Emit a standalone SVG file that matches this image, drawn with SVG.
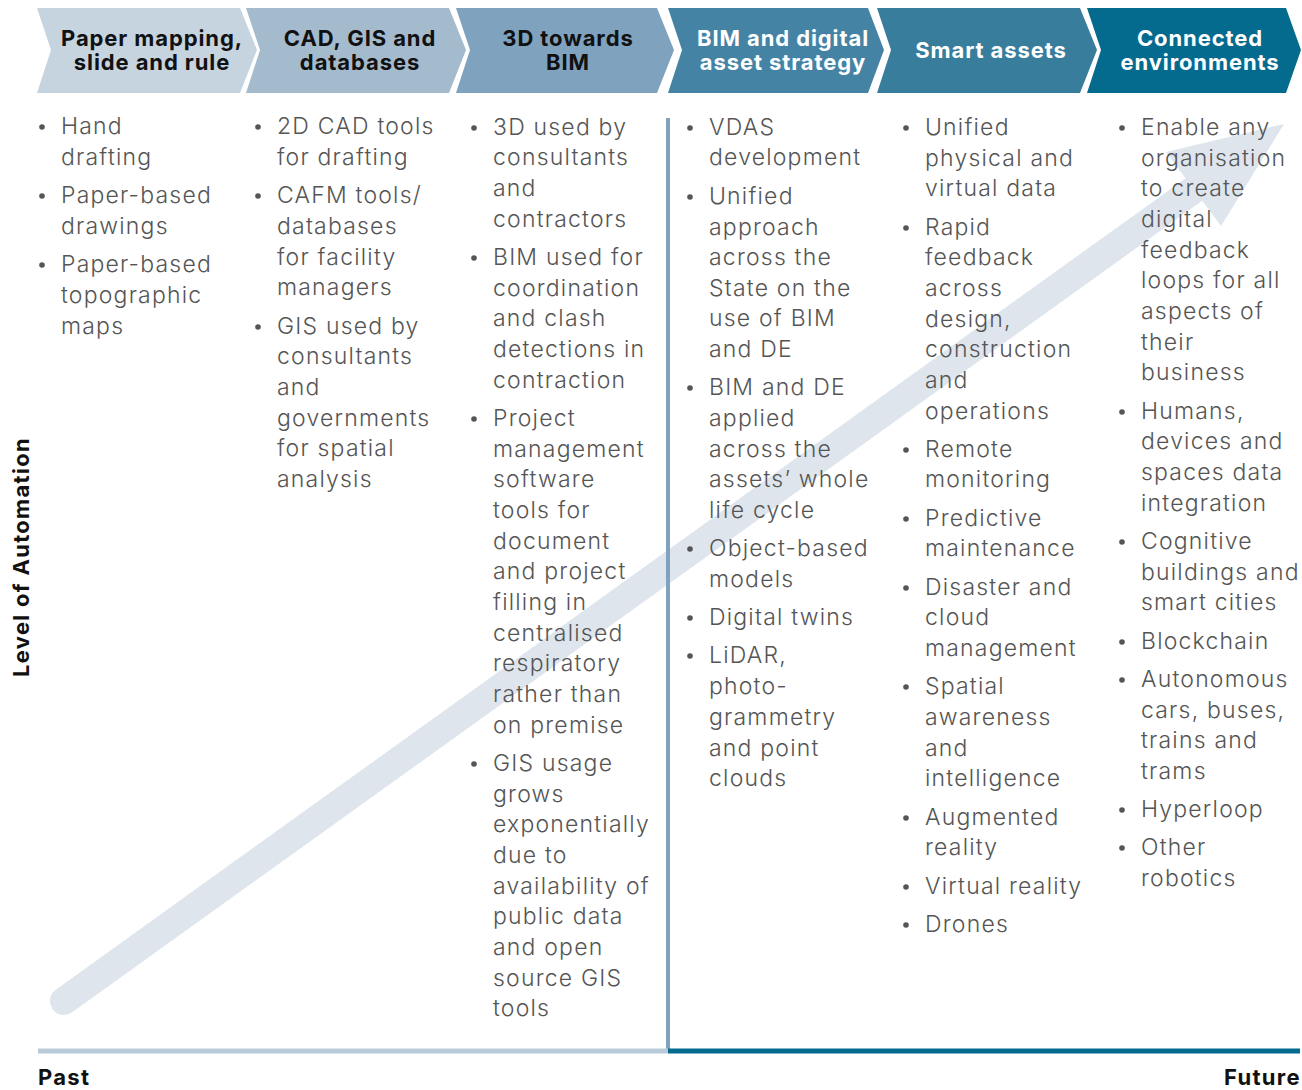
<svg xmlns="http://www.w3.org/2000/svg" width="1302" height="1090" viewBox="0 0 1302 1090">
<defs>
<style>
.hd{font-family:Inter,"Noto Sans","Liberation Sans",sans-serif;font-weight:700;font-size:22px;letter-spacing:0.9px;text-anchor:middle}
.dk{fill:#111}
.lt{fill:#fff}
.bd{font-family:Inter,"Noto Sans","Liberation Sans",sans-serif;font-weight:300;font-size:23px;fill:#555;letter-spacing:1.2px}
.bl{fill:#555}
.ax{font-family:Inter,"Noto Sans","Liberation Sans",sans-serif;font-weight:700;font-size:22px;fill:#111;letter-spacing:1.3px}
</style>
</defs>
<rect width="1302" height="1090" fill="#fff"/>
<!-- header chevrons -->
<g id="stage1"><polygon points="37,8 240,8 257,50 240,93 37,93 51,50" fill="#c6d4e0"/>
<text class="hd dk" x="152" y="46">Paper mapping,</text><text class="hd dk" x="152" y="70">slide and rule</text></g>
<g id="stage2"><polygon points="246,8 449,8 466,50 449,93 246,93 260,50" fill="#a4bacd"/>
<text class="hd dk" x="360" y="46">CAD, GIS and</text><text class="hd dk" x="360" y="70">databases</text></g>
<g id="stage3"><polygon points="456,8 657,8 674,50 657,93 456,93 470,50" fill="#7fa2bf"/>
<text class="hd dk" x="568" y="46">3D towards</text><text class="hd dk" x="568" y="70">BIM</text></g>
<g id="stage4"><polygon points="668,8 868,8 884,50 868,93 668,93 682,50" fill="#4583a5"/>
<text class="hd lt" x="783" y="46">BIM and digital</text><text class="hd lt" x="783" y="70">asset strategy</text></g>
<g id="stage5"><polygon points="877,8 1080,8 1097,50 1080,93 877,93 891,50" fill="#397d9d"/>
<text class="hd lt" x="991" y="58">Smart assets</text></g>
<g id="stage6"><polygon points="1087,8 1286,8 1301,50 1286,93 1087,93 1101,50" fill="#046b8f"/>
<text class="hd lt" x="1200" y="46">Connected</text><text class="hd lt" x="1200" y="70">environments</text></g>
<!-- connectors -->
<g id="connectors">
<line x1="64" y1="1001" x2="1196" y2="188" stroke="#dfe5ed" stroke-width="28" stroke-linecap="round"/>
<polygon points="1284,124 1221,226 1166,152" fill="#dfe5ed"/>
<line x1="668" y1="118" x2="668" y2="1053" stroke="#7fa2bf" stroke-width="4"/>
<line x1="38" y1="1051" x2="668" y2="1051" stroke="#b9cad9" stroke-width="5"/>
<line x1="668" y1="1051" x2="1300" y2="1051" stroke="#046b8f" stroke-width="5"/>
</g>
<!-- columns -->
<g id="col1">
<circle class="bl" cx="42" cy="127" r="2.8"/><circle class="bl" cx="42" cy="196" r="2.8"/><circle class="bl" cx="42" cy="265" r="2.8"/>
<text class="bd"><tspan x="61" y="134">Hand</tspan><tspan x="61" y="165">drafting</tspan><tspan x="61" y="203">Paper-based</tspan><tspan x="61" y="234">drawings</tspan><tspan x="61" y="272">Paper-based</tspan><tspan x="61" y="303">topographic</tspan><tspan x="61" y="334">maps</tspan></text>
</g>
<g id="col2">
<circle class="bl" cx="258" cy="127" r="2.8"/><circle class="bl" cx="258" cy="196" r="2.8"/><circle class="bl" cx="258" cy="327" r="2.8"/>
<text class="bd"><tspan x="277" y="134">2D CAD tools</tspan><tspan x="277" y="165">for drafting</tspan><tspan x="277" y="203">CAFM tools/</tspan><tspan x="277" y="234">databases</tspan><tspan x="277" y="265">for facility</tspan><tspan x="277" y="295">managers</tspan><tspan x="277" y="334">GIS used by</tspan><tspan x="277" y="364">consultants</tspan><tspan x="277" y="395">and</tspan><tspan x="277" y="426">governments</tspan><tspan x="277" y="456">for spatial</tspan><tspan x="277" y="487">analysis</tspan></text>
</g>
<g id="col3">
<circle class="bl" cx="474" cy="128" r="2.8"/><circle class="bl" cx="474" cy="258" r="2.8"/><circle class="bl" cx="474" cy="419" r="2.8"/><circle class="bl" cx="474" cy="764" r="2.8"/>
<text class="bd"><tspan x="493" y="135">3D used by</tspan><tspan x="493" y="165">consultants</tspan><tspan x="493" y="196">and</tspan><tspan x="493" y="227">contractors</tspan><tspan x="493" y="265">BIM used for</tspan><tspan x="493" y="296">coordination</tspan><tspan x="493" y="326">and clash</tspan><tspan x="493" y="357">detections in</tspan><tspan x="493" y="388">contraction</tspan><tspan x="493" y="426">Project</tspan><tspan x="493" y="457">management</tspan><tspan x="493" y="487">software</tspan><tspan x="493" y="518">tools for</tspan><tspan x="493" y="549">document</tspan><tspan x="493" y="579">and project</tspan><tspan x="493" y="610">filling in</tspan><tspan x="493" y="641">centralised</tspan><tspan x="493" y="671">respiratory</tspan><tspan x="493" y="702">rather than</tspan><tspan x="493" y="733">on premise</tspan><tspan x="493" y="771">GIS usage</tspan><tspan x="493" y="802">grows</tspan><tspan x="493" y="832">exponentially</tspan><tspan x="493" y="863">due to</tspan><tspan x="493" y="894">availability of</tspan><tspan x="493" y="924">public data</tspan><tspan x="493" y="955">and open</tspan><tspan x="493" y="986">source GIS</tspan><tspan x="493" y="1016">tools</tspan></text>
</g>
<g id="col4">
<circle class="bl" cx="690" cy="128" r="2.8"/><circle class="bl" cx="690" cy="197" r="2.8"/><circle class="bl" cx="690" cy="388" r="2.8"/><circle class="bl" cx="690" cy="549" r="2.8"/><circle class="bl" cx="690" cy="618" r="2.8"/><circle class="bl" cx="690" cy="656" r="2.8"/>
<text class="bd"><tspan x="709" y="135">VDAS</tspan><tspan x="709" y="165">development</tspan><tspan x="709" y="204">Unified</tspan><tspan x="709" y="235">approach</tspan><tspan x="709" y="265">across the</tspan><tspan x="709" y="296">State on the</tspan><tspan x="709" y="326">use of BIM</tspan><tspan x="709" y="357">and DE</tspan><tspan x="709" y="395">BIM and DE</tspan><tspan x="709" y="426">applied</tspan><tspan x="709" y="457">across the</tspan><tspan x="709" y="487">assets’ whole</tspan><tspan x="709" y="518">life cycle</tspan><tspan x="709" y="556">Object-based</tspan><tspan x="709" y="587">models</tspan><tspan x="709" y="625">Digital twins</tspan><tspan x="709" y="663">LiDAR,</tspan><tspan x="709" y="694">photo-</tspan><tspan x="709" y="725">grammetry</tspan><tspan x="709" y="756">and point</tspan><tspan x="709" y="786">clouds</tspan></text>
</g>
<g id="col5">
<circle class="bl" cx="906" cy="128" r="2.8"/><circle class="bl" cx="906" cy="228" r="2.8"/><circle class="bl" cx="906" cy="450" r="2.8"/><circle class="bl" cx="906" cy="519" r="2.8"/><circle class="bl" cx="906" cy="588" r="2.8"/><circle class="bl" cx="906" cy="687" r="2.8"/><circle class="bl" cx="906" cy="818" r="2.8"/><circle class="bl" cx="906" cy="887" r="2.8"/><circle class="bl" cx="906" cy="925" r="2.8"/>
<text class="bd"><tspan x="925" y="135">Unified</tspan><tspan x="925" y="166">physical and</tspan><tspan x="925" y="196">virtual data</tspan><tspan x="925" y="235">Rapid</tspan><tspan x="925" y="265">feedback</tspan><tspan x="925" y="296">across</tspan><tspan x="925" y="327">design,</tspan><tspan x="925" y="357">construction</tspan><tspan x="925" y="388">and</tspan><tspan x="925" y="419">operations</tspan><tspan x="925" y="457">Remote</tspan><tspan x="925" y="487">monitoring</tspan><tspan x="925" y="526">Predictive</tspan><tspan x="925" y="556">maintenance</tspan><tspan x="925" y="595">Disaster and</tspan><tspan x="925" y="625">cloud</tspan><tspan x="925" y="656">management</tspan><tspan x="925" y="694">Spatial</tspan><tspan x="925" y="725">awareness</tspan><tspan x="925" y="756">and</tspan><tspan x="925" y="786">intelligence</tspan><tspan x="925" y="825">Augmented</tspan><tspan x="925" y="855">reality</tspan><tspan x="925" y="894">Virtual reality</tspan><tspan x="925" y="932">Drones</tspan></text>
</g>
<g id="col6">
<circle class="bl" cx="1122" cy="128" r="2.8"/><circle class="bl" cx="1122" cy="412" r="2.8"/><circle class="bl" cx="1122" cy="542" r="2.8"/><circle class="bl" cx="1122" cy="642" r="2.8"/><circle class="bl" cx="1122" cy="680" r="2.8"/><circle class="bl" cx="1122" cy="810" r="2.8"/><circle class="bl" cx="1122" cy="848" r="2.8"/>
<text class="bd"><tspan x="1141" y="135">Enable any</tspan><tspan x="1141" y="166">organisation</tspan><tspan x="1141" y="196">to create</tspan><tspan x="1141" y="227">digital</tspan><tspan x="1141" y="258">feedback</tspan><tspan x="1141" y="288">loops for all</tspan><tspan x="1141" y="319">aspects of</tspan><tspan x="1141" y="350">their</tspan><tspan x="1141" y="380">business</tspan><tspan x="1141" y="419">Humans,</tspan><tspan x="1141" y="449">devices and</tspan><tspan x="1141" y="480">spaces data</tspan><tspan x="1141" y="511">integration</tspan><tspan x="1141" y="549">Cognitive</tspan><tspan x="1141" y="580">buildings and</tspan><tspan x="1141" y="610">smart cities</tspan><tspan x="1141" y="649">Blockchain</tspan><tspan x="1141" y="687">Autonomous</tspan><tspan x="1141" y="718">cars, buses,</tspan><tspan x="1141" y="748">trains and</tspan><tspan x="1141" y="779">trams</tspan><tspan x="1141" y="817">Hyperloop</tspan><tspan x="1141" y="855">Other</tspan><tspan x="1141" y="886">robotics</tspan></text>
</g>
<!-- axes labels -->
<g id="axis-y"><text class="ax" transform="translate(29,557) rotate(-90)" text-anchor="middle">Level of Automation</text></g>
<g id="axis-past"><text class="ax" x="38" y="1085">Past</text></g>
<g id="axis-future"><text class="ax" x="1301" y="1085" text-anchor="end">Future</text></g>
</svg>
